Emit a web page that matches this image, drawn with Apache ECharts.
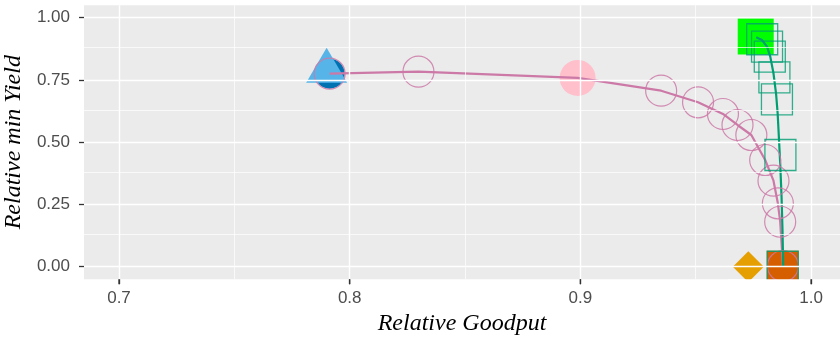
<!DOCTYPE html>
<html>
<head>
<meta charset="utf-8">
<script src="https://cdn.jsdelivr.net/npm/echarts@6/dist/echarts.min.js"></script>
<style>
html, body { margin: 0; padding: 0; background: #fff; }
#chart { width: 840px; height: 338px; }
</style>
</head>
<body>
<div id="chart"></div>
<script>
// axis ticks / grid lines
var xTicks = [0.7, 0.8, 0.9, 1.0];
var xMinor = [0.75, 0.85, 0.95];
var yTicks = [0, 0.25, 0.5, 0.75, 1];
var yMinor = [0.125, 0.375, 0.625, 0.875];

// pink path (circles)
var pinkX = [0.7913, 0.8298, 0.8988, 0.9350, 0.9510, 0.9618, 0.9681, 0.9741, 0.9801, 0.9837, 0.9856, 0.9866, 0.9878];
var pinkY = [0.775, 0.783, 0.758, 0.7068, 0.6602, 0.6133, 0.5691, 0.5289, 0.4285, 0.3454, 0.2546, 0.1807, 0.003];
var pinkCircleX = [0.7913, 0.8298, 0.9350, 0.9510, 0.9618, 0.9681, 0.9741, 0.9801, 0.9837, 0.9856, 0.9866, 0.9878];
var pinkCircleY = [0.775, 0.783, 0.7068, 0.6602, 0.6133, 0.5691, 0.5289, 0.4285, 0.3454, 0.2546, 0.1807, 0.003];

// green path (squares)
var greenPathX = [0.9762, 0.9787, 0.9809, 0.9823, 0.9837, 0.9848, 0.9855, 0.9861, 0.9866, 0.9872, 0.9876, 0.9879];
var greenPathY = [0.9213, 0.9104, 0.8835, 0.8434, 0.7767, 0.6964, 0.6161, 0.5088, 0.4153, 0.2811, 0.1474, 0.0028];
var greenSqX = [0.9788, 0.9809, 0.9821, 0.9841, 0.9852, 0.9867, 0.9877];
var greenSqY = [0.9133, 0.8835, 0.8434, 0.7606, 0.6723, 0.4486, 0.0];

// single reference points
var blueDot = [0.7913, 0.775];
var blueTri = [0.7900, 0.8088];
var pinkDot = [0.8988, 0.758];
var goldDiamond = [0.9728, 0.0];
var orangeSquare = [0.9877, 0.0];
var greenDot = [0.9760, 0.9245];

function zip(xs, ys) {
  var out = [];
  for (var i = 0; i < xs.length; i++) out.push([xs[i], ys[i]]);
  return out;
}

function gridLines() {
  var d = [];
  xTicks.forEach(function (v) { d.push({ xAxis: v, lineStyle: { color: '#fff', width: 1.4, type: 'solid' } }); });
  xMinor.forEach(function (v) { d.push({ xAxis: v, lineStyle: { color: '#fff', width: 0.7, type: 'solid' } }); });
  yTicks.forEach(function (v) { d.push({ yAxis: v, lineStyle: { color: '#fff', width: 1.4, type: 'solid' } }); });
  yMinor.forEach(function (v) { d.push({ yAxis: v, lineStyle: { color: '#fff', width: 0.7, type: 'solid' } }); });
  return d;
}

var chart = echarts.init(document.getElementById('chart'), null, { renderer: 'canvas' });

var tickLabel = { color: '#4D4D4D', fontSize: 17, fontFamily: 'Liberation Sans, Arial, sans-serif' };
var titleFont = { color: '#000', fontSize: 24, fontStyle: 'italic', fontFamily: 'Liberation Serif, serif' };

option = {
  backgroundColor: '#FFFFFF',
  animation: false,
  grid: {
    left: 84, right: 0, top: 5.2, bottom: 58.8,
    outerBoundsMode: 'none',
    show: true, backgroundColor: '#EBEBEB', borderWidth: 0
  },
  xAxis: {
    type: 'value',
    min: 0.68483, max: 1.01253,
    name: 'Relative Goodput',
    nameLocation: 'middle',
    nameGap: 31,
    nameTextStyle: titleFont,
    axisLine: { show: false, onZero: false },
    axisTick: { show: true, length: 5, customValues: xTicks, lineStyle: { color: '#333333', width: 1.3 } },
    axisLabel: { customValues: xTicks, margin: 11, formatter: function (v) { return v.toFixed(1); }, ...tickLabel },
    splitLine: { show: false }
  },
  yAxis: {
    type: 'value',
    min: -0.05, max: 1.05,
    name: 'Relative min Yield',
    nameLocation: 'middle',
    nameRotate: 90,
    nameGap: 57,
    nameTextStyle: titleFont,
    axisLine: { show: false, onZero: false },
    axisTick: { show: true, length: 5, customValues: yTicks, lineStyle: { color: '#333333', width: 1.3 } },
    axisLabel: { customValues: yTicks, margin: 14, formatter: function (v) { return v.toFixed(2); }, ...tickLabel },
    splitLine: { show: false }
  },
  graphic: [{
    id: 'mask',
    // clip the big markers at the panel's bottom edge
    type: 'rect', z: 100,
    shape: { x: 728, y: 279.3, width: 76, height: 8 },
    style: { fill: '#fff' }
  }],
  series: [
    {
      type: 'line', data: [], z: 1, silent: true,
      markLine: { silent: true, symbol: 'none', label: { show: false }, data: gridLines() }
    },
    { type: 'scatter', z: 2, data: [blueDot], symbol: 'circle', symbolSize: 30, itemStyle: { color: '#0072B2', opacity: 1 } },
    { type: 'scatter', z: 2, data: [blueTri], symbol: 'triangle', symbolSize: [41, 35], itemStyle: { color: '#56B4E9', opacity: 1 } },
    { type: 'scatter', z: 2, data: [pinkDot], symbol: 'circle', symbolSize: 36, itemStyle: { color: '#FFC0CB', opacity: 1 } },
    { type: 'scatter', z: 2, data: [goldDiamond], symbol: 'diamond', symbolSize: [31, 31], itemStyle: { color: '#E69F00', opacity: 1 } },
    { type: 'scatter', z: 2, data: [orangeSquare], symbol: 'rect', symbolSize: 32, itemStyle: { color: '#D55E00', opacity: 1 } },
    { type: 'scatter', z: 2, data: [greenDot], symbol: 'rect', symbolSize: 36, itemStyle: { color: '#00FF00', opacity: 1 } },
    {
      type: 'line', z: 3, data: zip(pinkX, pinkY), showSymbol: false, smooth: false,
      lineStyle: { color: '#CC79A7', width: 2.2 }
    },
    {
      type: 'line', z: 3, data: zip(greenPathX, greenPathY), showSymbol: false, smooth: false,
      lineStyle: { color: '#009E73', width: 2.2 }
    },
    {
      type: 'scatter', z: 4, data: zip(pinkCircleX, pinkCircleY), symbol: 'circle', symbolSize: 31,
      itemStyle: { color: 'rgba(0,0,0,0)', borderColor: 'rgba(204,121,167,0.85)', borderWidth: 1.2, opacity: 1 }
    },
    {
      type: 'scatter', z: 4, data: zip(greenSqX, greenSqY), symbol: 'rect', symbolSize: 31,
      itemStyle: { color: 'rgba(0,0,0,0)', borderColor: 'rgba(0,158,115,0.8)', borderWidth: 1.3, opacity: 1 }
    }
  ]
};

chart.setOption(option);

// x tick marks placed through the axis scale (the built-in ones go missing here)
var axisBottom = chart.convertToPixel({ yAxisIndex: 0 }, -0.05);
var tickMarks = xTicks.map(function (v, i) {
  var px = chart.convertToPixel({ xAxisIndex: 0 }, v);
  return {
    id: 'xtick' + i, type: 'line', z: 120, silent: true,
    shape: { x1: px, y1: axisBottom, x2: px, y2: axisBottom + 5 },
    style: { stroke: '#333333', lineWidth: 1.3 }
  };
});
chart.setOption({ graphic: tickMarks });
</script>
</body>
</html>
